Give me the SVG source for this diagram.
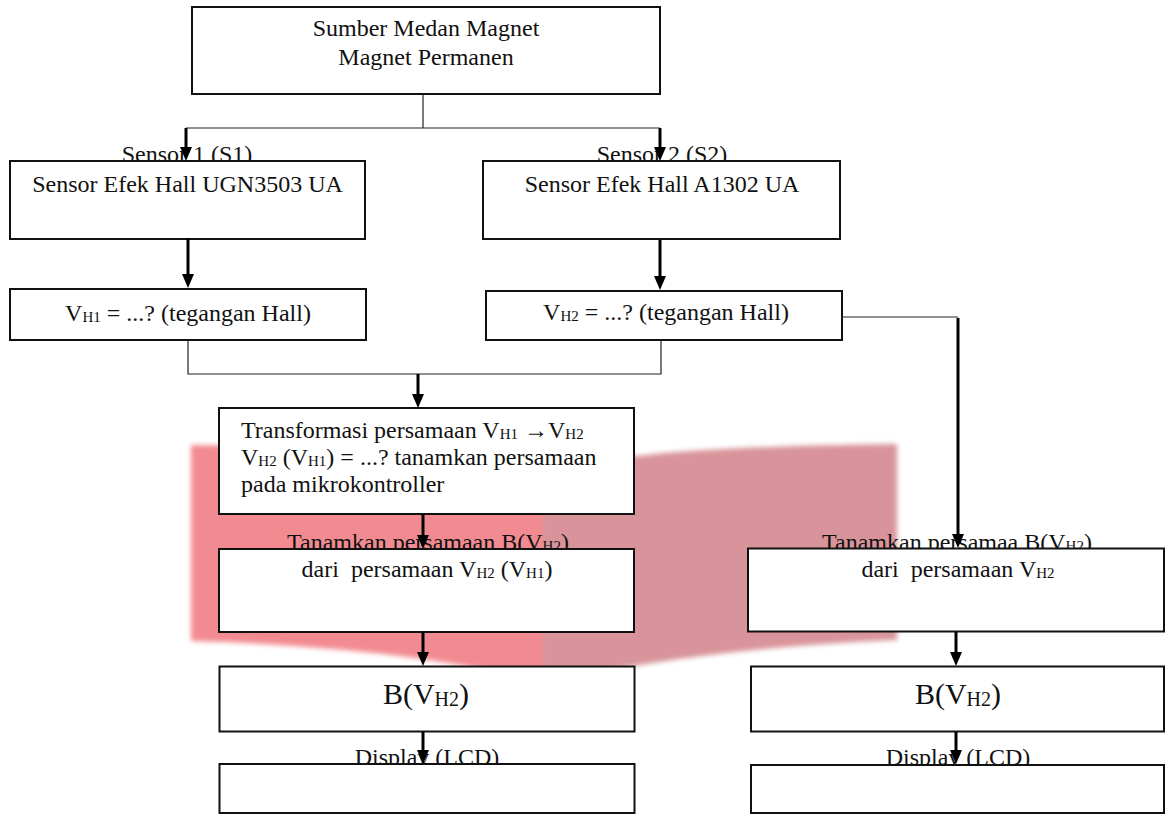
<svg xmlns="http://www.w3.org/2000/svg" width="1166" height="814" viewBox="0 0 1166 814">
<defs>
<style>
.box{fill:#fff;stroke:#111;stroke-width:2}
.t{font-family:"Liberation Serif","Times New Roman",serif;font-size:24px;fill:#111}
.c{text-anchor:middle}
.big{font-size:30px}
.sub{font-size:15px}
.subb{font-size:20px}
.thin{fill:none;stroke:#222;stroke-width:1.2}
.thick{fill:none;stroke:#000;stroke-width:3}
</style>
<marker id="ah" markerUnits="userSpaceOnUse" markerWidth="14" markerHeight="12" refX="4" refY="6" orient="auto">
<path d="M0,0 L14,6 L0,12 Z" fill="#000"/>
</marker>
<filter id="soft" x="-5%" y="-5%" width="110%" height="110%"><feGaussianBlur stdDeviation="2.5"/></filter>
</defs>
<rect width="1166" height="814" fill="#fff"/>
<g id="watermark" filter="url(#soft)">
<path d="M191,445 L543,450 L543,684 Q420,648 191,641 Z" fill="#f28b91"/>
<path d="M543,450 Q600,453 637,456 Q720,446 897,444 L897,640 Q700,648 543,684 Z" fill="#d8949a"/>
</g>
<g id="n-source">
<rect class="box" x="192" y="7" width="468" height="87"/>
<text class="t c" x="426" y="36">Sumber Medan Magnet</text>
<text class="t c" x="426" y="65">Magnet Permanen</text>
</g>
<g id="n-sensor1">
<text class="t c" x="187" y="162">Sensor 1 (S1)</text>
<rect class="box" x="10" y="161" width="355" height="78"/>
<text class="t c" x="187.5" y="192">Sensor Efek Hall UGN3503 UA</text>
</g>
<g id="n-sensor2">
<text class="t c" x="662" y="162">Sensor 2 (S2)</text>
<rect class="box" x="483" y="161" width="357" height="78"/>
<text class="t c" x="662" y="192">Sensor Efek Hall A1302 UA</text>
</g>
<g id="n-vh1">
<rect class="box" x="10" y="289" width="356" height="51"/>
<text class="t c" x="188" y="321">V<tspan class="sub" dy="1">H1</tspan><tspan dy="-1"> = ...? (tegangan Hall)</tspan></text>
</g>
<g id="n-vh2">
<rect class="box" x="486" y="291" width="356" height="49"/>
<text class="t c" x="666" y="320">V<tspan class="sub" dy="1">H2</tspan><tspan dy="-1"> = ...? (tegangan Hall)</tspan></text>
</g>
<g id="n-transform">
<rect class="box" x="219" y="408" width="415" height="106"/>
<text class="t" x="241" y="438">Transformasi persamaan V<tspan class="sub" dy="1">H1</tspan><tspan dy="-1"> →V</tspan><tspan class="sub" dy="1">H2</tspan></text>
<text class="t" x="241" y="465">V<tspan class="sub" dy="1">H2</tspan><tspan dy="-1"> (V</tspan><tspan class="sub" dy="1">H1</tspan><tspan dy="-1">) = ...? tanamkan persamaan</tspan></text>
<text class="t" x="241" y="492">pada mikrokontroller</text>
</g>
<g id="n-embedL">
<text class="t c" x="428" y="550">Tanamkan persamaan B(V<tspan class="sub" dy="1">H2</tspan><tspan dy="-1">)</tspan></text>
<rect class="box" x="219" y="549" width="415" height="83"/>
<text class="t c" x="427" y="577" xml:space="preserve">dari  persamaan V<tspan class="sub" dy="1">H2</tspan><tspan dy="-1"> (V</tspan><tspan class="sub" dy="1">H1</tspan><tspan dy="-1">)</tspan></text>
</g>
<g id="n-embedR">
<text class="t c" x="957" y="550">Tanamkan persamaa B(V<tspan class="sub" dy="1">H2</tspan><tspan dy="-1">)</tspan></text>
<rect class="box" x="748" y="548.5" width="416" height="83"/>
<text class="t c" x="958" y="577" xml:space="preserve">dari  persamaan V<tspan class="sub" dy="1">H2</tspan></text>
</g>
<g id="n-BL">
<rect class="box" x="219.5" y="666.5" width="415" height="65"/>
<text class="t c big" x="426" y="704">B(V<tspan class="subb" dy="1.5">H2</tspan><tspan dy="-1.5">)</tspan></text>
</g>
<g id="n-BR">
<rect class="box" x="751" y="666.5" width="413" height="65"/>
<text class="t c big" x="958" y="704">B(V<tspan class="subb" dy="1.5">H2</tspan><tspan dy="-1.5">)</tspan></text>
</g>
<g id="n-displayL">
<text class="t c" x="427" y="765">Display (LCD)</text>
<rect class="box" x="219.5" y="764" width="415" height="49"/>
</g>
<g id="n-displayR">
<text class="t c" x="958" y="765">Display (LCD)</text>
<rect class="box" x="751" y="765" width="413" height="48"/>
</g>
<g id="connectors">
<path class="thin" d="M423,94 V128 M186,128 H660"/>
<path class="thin" d="M188,340 V374 H661 V340"/>
<path class="thin" d="M842,317 H958"/>
<path class="thick" marker-end="url(#ah)" d="M186,128 V151"/>
<path class="thick" marker-end="url(#ah)" d="M660,128 V151"/>
<path class="thick" marker-end="url(#ah)" d="M188,238 V278"/>
<path class="thick" marker-end="url(#ah)" d="M660,240 V280"/>
<path class="thick" marker-end="url(#ah)" d="M418,374 V398"/>
<path class="thick" marker-end="url(#ah)" d="M958,318 V538"/>
<path class="thick" marker-end="url(#ah)" d="M423,514 V539"/>
<path class="thick" marker-end="url(#ah)" d="M423,632 V656"/>
<path class="thick" marker-end="url(#ah)" d="M423,732 V754"/>
<path class="thick" marker-end="url(#ah)" d="M956,632 V656"/>
<path class="thick" marker-end="url(#ah)" d="M956,732 V754"/>
</g>
</svg>
